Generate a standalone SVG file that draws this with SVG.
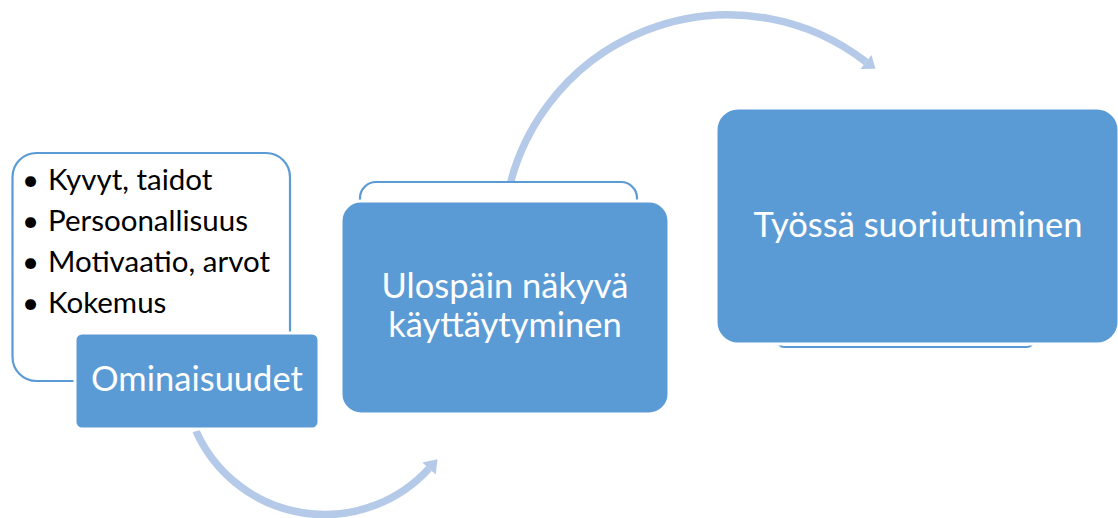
<svg xmlns="http://www.w3.org/2000/svg" width="1118" height="518" viewBox="0 0 1118 518">
  <defs>
    <style>
      .outline { fill: #ffffff; stroke: #5B9BD5; stroke-width: 2.2; }
      .block { fill: #5B9BD5; stroke: #ffffff; stroke-width: 3; }
      .label { font-family: Lato, "Liberation Sans", sans-serif; fill: #ffffff; font-size: 34.5px; text-anchor: middle; }
      .item { font-family: Lato, "Liberation Sans", sans-serif; fill: #000000; font-size: 29.5px; }
      .flow { fill: none; stroke: #B4CAE8; stroke-width: 7.5; }
      .head { fill: #B4CAE8; }
    </style>
  </defs>

  <rect width="1118" height="518" fill="#ffffff"/>

  <!-- curved arrows between stages -->
  <g id="connectors">
    <path class="flow" d="M196,431 A141,141 0 0 0 429,468.5"/>
    <polygon class="head" points="422.3,462.4 437.5,459.2 435.7,474.6"/>
    <path class="flow" d="M506,204 A225,225 0 0 1 866,62"/>
    <polygon class="head" points="871.5,54.9 875.5,68.8 860.5,69.1"/>
  </g>

  <!-- stage 1: attributes with item list -->
  <g id="ominaisuudet">
    <rect class="outline" x="12.5" y="153" width="277.5" height="228" rx="24"/>
    <text class="item" x="22" y="190">•</text>
    <text class="item" x="48" y="190">Kyvyt, taidot</text>
    <text class="item" x="22" y="231">•</text>
    <text class="item" x="48" y="231">Persoonallisuus</text>
    <text class="item" x="22" y="272">•</text>
    <text class="item" x="48" y="272">Motivaatio, arvot</text>
    <text class="item" x="22" y="313">•</text>
    <text class="item" x="48" y="313">Kokemus</text>
    <rect class="block" x="75" y="333" width="244" height="96" rx="7"/>
    <text class="label" x="197" y="391">Ominaisuudet</text>
  </g>

  <!-- stage 2: visible behaviour -->
  <g id="kayttaytyminen">
    <rect class="outline" x="360" y="182" width="277" height="120" rx="16"/>
    <rect class="block" x="341" y="201" width="328" height="213" rx="20"/>
    <text class="label" x="505" y="298">Ulospäin näkyvä</text>
    <text class="label" x="505" y="337">käyttäytyminen</text>
  </g>

  <!-- stage 3: job performance -->
  <g id="suoriutuminen">
    <rect class="outline" x="778" y="150" width="255" height="197" rx="6"/>
    <rect class="block" x="716" y="108" width="403" height="236" rx="22"/>
    <text class="label" x="918" y="237">Työssä suoriutuminen</text>
  </g>
</svg>
